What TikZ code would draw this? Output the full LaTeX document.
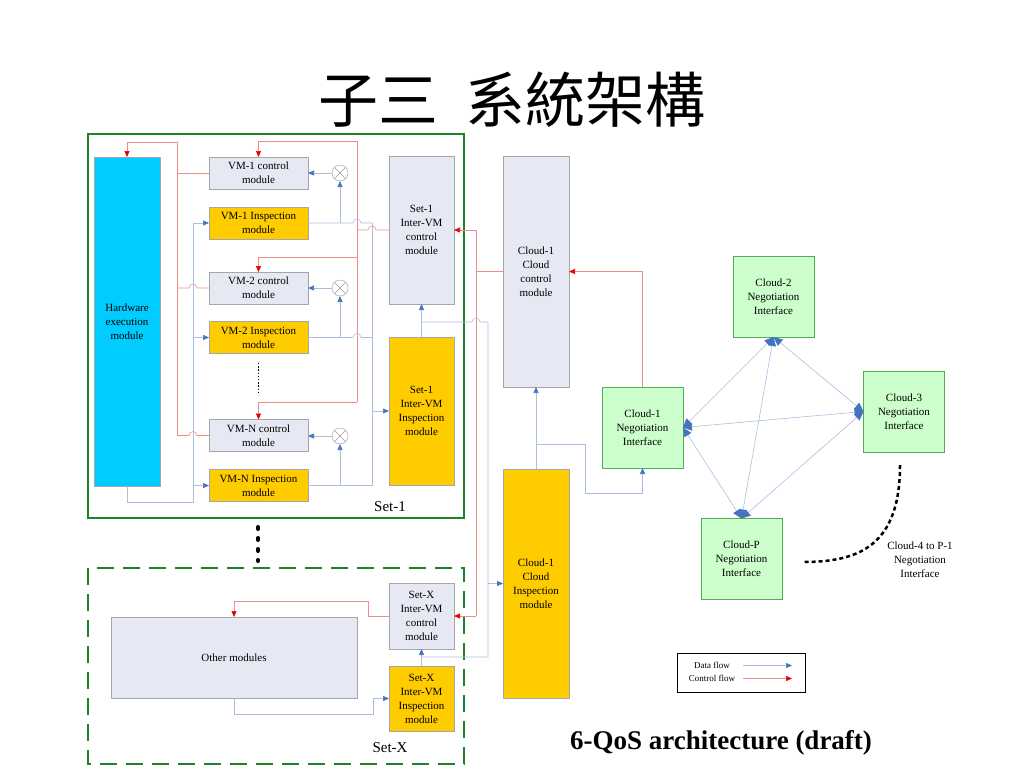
\documentclass[tikz,border=0pt]{standalone}
\usepackage{fontspec}
\setmainfont{Liberation Serif}
\newfontfamily\cjk{Noto Sans CJK TC}
\usetikzlibrary{arrows.meta,positioning}
\definecolor{hwcyan}{RGB}{0,204,255}
\definecolor{ctrlgray}{RGB}{230,233,243}
\definecolor{inspgold}{RGB}{255,204,0}
\definecolor{negogreen}{RGB}{204,255,204}
\definecolor{framegreen}{RGB}{30,130,40}
\definecolor{dline}{RGB}{170,190,222}
\definecolor{dhead}{RGB}{70,115,190}
\definecolor{cline}{RGB}{240,140,140}
\definecolor{chead}{RGB}{230,0,0}

\begin{document}
\begin{tikzpicture}[
    x=1pt, y=-1pt,
    font=\fontsize{11}{14}\selectfont,
    module/.style={
		rectangle,
		draw=gray!70,
		line width=0.6pt,
		align=center,
		inner sep=1pt,
		outer sep=0pt
	},
    ctrlbox/.style={module, fill=ctrlgray},
    inspbox/.style={module, fill=inspgold},
    hwbox/.style={module, fill=hwcyan},
    negobox/.style={module, fill=negogreen, draw=green!35!gray,
		minimum width=81pt, minimum height=81pt},
    vmbox/.style={minimum width=99pt, minimum height=32pt},
    setbox/.style={minimum width=65pt},
    xcirc/.style={
		circle, draw=gray!80, minimum size=16pt, inner sep=0pt, outer sep=0pt,
		path picture={\draw[gray!80] (path picture bounding box.north west) -- (path picture bounding box.south east)
			(path picture bounding box.north east) -- (path picture bounding box.south west);}
	},
    dflow/.style={draw=dline, line width=0.6pt},
    cflow/.style={draw=cline, line width=0.6pt},
    dflowarr/.style={dflow, -{Triangle[length=6pt,width=5pt,color=dhead]}},
    cflowarr/.style={cflow, -{Triangle[length=6pt,width=5pt,color=chead]}},
    negoarr/.style={dflow, {Triangle[length=9pt,width=8pt,color=dhead]}-{Triangle[length=9pt,width=8pt,color=dhead]}},
    setlabel/.style={font=\fontsize{15}{18}\selectfont},
    legendtext/.style={font=\fontsize{9}{10}\selectfont}
  ]
  \useasboundingbox (0,0) rectangle (1024,768);

  % titles
  \node [font=\cjk\fontsize{60}{64}\selectfont] (title) at (512,100) {子三\hspace{0.45em}系統架構};
  \node [font=\bfseries\fontsize{27}{30}\selectfont] (subtitle) at (721,743) {6-QoS architecture (draft)};

  % Set-1 and Set-X frames
  \draw [framegreen, line width=1.5pt] (88,134) rectangle (464,518);
  \draw [framegreen, line width=1.5pt, dash pattern=on 17pt off 9pt] (88,568) rectangle (464,764);
  \node [setlabel] (set1lbl) at (390,507) {Set-1};
  \node [setlabel] (setXlbl) at (390,748) {Set-X};

  % We start by placing the blocks
  \node [hwbox, minimum width=66pt, minimum height=329pt] (hw) at (127,321.5) {Hardware\\execution\\module};

  \node [ctrlbox, vmbox] (vm1ctrl) at (258.5,173) {VM-1 control\\module};
  \node [inspbox, vmbox] (vm1insp) at (258.5,223) {VM-1 Inspection\\module};
  \node [ctrlbox, vmbox] (vm2ctrl) at (258.5,288) {VM-2 control\\module};
  \node [inspbox, vmbox] (vm2insp) at (258.5,337.5) {VM-2 Inspection\\module};
  \node [ctrlbox, vmbox] (vmNctrl) at (258.5,435.5) {VM-N control\\module};
  \node [inspbox, vmbox] (vmNinsp) at (258.5,485.5) {VM-N Inspection\\module};
  \draw [line width=1.6pt, dash pattern=on 1.4pt off 1.8pt] (258.5,363) -- (258.5,395);

  \node [xcirc] (x1) at (340,173) {};
  \node [xcirc] (x2) at (340,288) {};
  \node [xcirc] (xN) at (340,436) {};

  \node [ctrlbox, setbox, minimum height=148pt] (s1ctrl) at (421.5,230) {Set-1\\Inter-VM\\control\\module};
  \node [inspbox, setbox, minimum height=148pt] (s1insp) at (421.5,411) {Set-1\\Inter-VM\\Inspection\\module};

  \node [ctrlbox, minimum width=246pt, minimum height=81pt] (others) at (234,657.5) {Other modules};
  \node [ctrlbox, setbox, minimum height=66pt] (sXctrl) at (421.5,616) {Set-X\\Inter-VM\\control\\module};
  \node [inspbox, setbox, minimum height=65pt] (sXinsp) at (421.5,698.5) {Set-X\\Inter-VM\\Inspection\\module};
  \draw [line width=4pt, line cap=round, dash pattern=on 2pt off 9pt] (258,527) -- (258,561);

  \node [ctrlbox, minimum width=66pt, minimum height=231pt] (c1ctrl) at (536,271.5) {Cloud-1\\Cloud\\control\\module};
  \node [inspbox, minimum width=66pt, minimum height=229pt] (c1insp) at (536,583.5) {Cloud-1\\Cloud\\Inspection\\module};

  \node [negobox] (c1neg) at (642.5,427.5) {Cloud-1\\Negotiation\\Interface};
  \node [negobox] (c2neg) at (773.5,296.5) {Cloud-2\\Negotiation\\Interface};
  \node [negobox] (c3neg) at (904,411.5) {Cloud-3\\Negotiation\\Interface};
  \node [negobox] (cPneg) at (741.5,559) {Cloud-P\\Negotiation\\Interface};
  \node [align=center] (restneg) at (920,560) {Cloud-4 to P-1\\Negotiation\\Interface};
  \coordinate (restA) at (900,465);
  \coordinate (restB) at (803,562);
  \draw [line width=2.5pt, dash pattern=on 4pt off 3pt] (restA) .. controls (900,545) and (860,562) .. (restB);

  % control flow inside Set-1
  \draw [cflow] (s1ctrl.west) -- (376,230) arc[start angle=0,end angle=180,radius=4pt] -- (357,230);
  \draw [cflow] (357,141) -- (357,402);
  \draw [cflowarr] (357,141) -| (vm1ctrl.north);
  \draw [cflowarr] (357,257) -| (vm2ctrl.north);
  \draw [cflowarr] (357,402) -| (vmNctrl.north);
  \draw [cflow] (vm1ctrl.west) -- (177,173);
  \draw [cflow] (vm2ctrl.west) -- (197,288) arc[start angle=0,end angle=180,radius=4pt] -- (177,288);
  \draw [cflow] (vmNctrl.west) -- (197,435.5) arc[start angle=0,end angle=180,radius=4pt] -- (177,435.5);
  \draw [cflowarr] (177,435.5) -- (177,142) -| (hw.north);

  % data flow inside Set-1
  \draw [dflow] (hw.south) |- (193,502) -- (193,223);
  \draw [dflowarr] (193,223) -- (vm1insp.west);
  \draw [dflowarr] (193,337.5) -- (vm2insp.west);
  \draw [dflowarr] (193,485.5) -- (vmNinsp.west);
  \draw [dflow] (vm1insp.east) -- (353,223) arc[start angle=180,end angle=0,radius=4pt] -- (372,223);
  \draw [dflow] (vm2insp.east) -- (353,337.5) arc[start angle=180,end angle=0,radius=4pt] -- (372,337.5);
  \draw [dflow] (vmNinsp.east) -- (372,485.5);
  \draw [dflowarr] (340,223) -- (x1.south);
  \draw [dflowarr] (340,337.5) -- (x2.south);
  \draw [dflowarr] (340,485.5) -- (xN.south);
  \draw [dflowarr] (x1) -- (vm1ctrl);
  \draw [dflowarr] (x2) -- (vm2ctrl);
  \draw [dflowarr] (xN.west) -- (vmNctrl.east |- xN.west);
  \draw [dflow] (372,223) -- (372,485.5);
  \draw [dflowarr] (372,411) -- (s1insp.west);
  \draw [dflowarr] (s1insp.north) -- (s1ctrl.south);

  % Set-X
  \draw [cflowarr] (sXctrl.west) -- (368,616) -- (368,601) -| (others.north);
  \draw [dflowarr] (others.south) |- (373,714) |- (sXinsp.west);
  \draw [dflowarr] (sXinsp.north) -- (sXctrl.south);

  % sets to cloud
  \draw [dflow] (421.5,322) -- (472,322) arc[start angle=180,end angle=0,radius=4pt] -- (488,322) -- (488,657) -- (421.5,657);
  \draw [dflowarr] (488,583.5) -- (c1insp.west);
  \draw [cflow] (c1ctrl.west) -- (476,271.5);
  \draw [cflow] (476,230) -- (476,616);
  \draw [cflowarr] (476,230) -- (s1ctrl.east);
  \draw [cflowarr] (476,616) -- (sXctrl.east);

  % cloud
  \draw [dflowarr] (c1insp.north) -- (c1ctrl.south);
  \draw [dflowarr] (536,444) -| (585,493) -| (c1neg.south);
  \draw [cflowarr] (c1neg.north) |- (c1ctrl.east);

  \draw [negoarr] (c1neg.east) -- (c2neg.south);
  \draw [negoarr] (c1neg.east) -- (c3neg.west);
  \draw [negoarr] (c1neg.east) -- (cPneg.north);
  \draw [negoarr] (c2neg.south) -- (c3neg.west);
  \draw [negoarr] (c2neg.south) -- (cPneg.north);
  \draw [negoarr] (c3neg.west) -- (cPneg.north);

  % legend
  \node [draw=black, line width=1pt, minimum width=128pt, minimum height=39pt] (legend) at (741,672.5) {};
  \node [legendtext] (dlbl) at (712,665.5) {Data flow};
  \node [legendtext] (clbl) at (712,678.5) {Control flow};
  \coordinate (dA) at (743,665.5);
  \coordinate (dB) at (792,665.5);
  \coordinate (cA) at (743,678.5);
  \coordinate (cB) at (792,678.5);
  \draw [dflowarr] (dA) -- (dB);
  \draw [cflowarr] (cA) -- (cB);

\end{tikzpicture}
\end{document}
